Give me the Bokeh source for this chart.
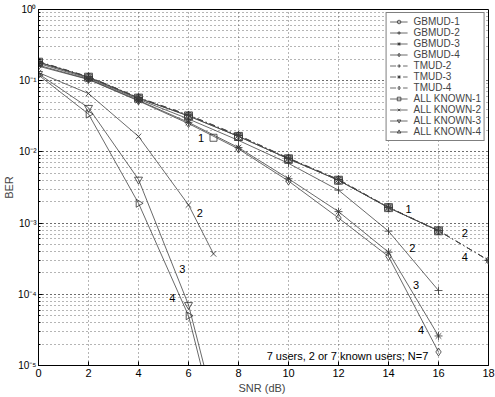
from bokeh.plotting import figure
from bokeh.models import (ColumnDataSource, Legend, LegendItem, SingleIntervalTicker,
                          CustomJSTickFormatter, LogTicker, Label, Range1d)
from bokeh.core.properties import value
from bokeh.embed import file_html
from bokeh.resources import INLINE

# ---------------- data ----------------
snr_g = [0, 2, 4, 6, 8, 10, 12, 14, 16]
snr_t = [0, 2, 4, 6, 8, 10, 12, 14, 16, 18]
snr_a = [0, 2, 4, 6, 7]

gbmud_1 = [0.182, 0.112, 0.057, 0.032, 0.0165, 0.0080, 0.0040, 0.00165, 0.00078]
gbmud_2 = [0.175, 0.108, 0.055, 0.029, 0.0145, 0.0069, 0.0029, 0.00077, 0.000113]
gbmud_3 = [0.165, 0.105, 0.053, 0.026, 0.0115, 0.0042, 0.00145, 0.00039, 2.6e-5]
gbmud_4 = [0.160, 0.104, 0.052, 0.025, 0.0110, 0.0039, 0.00118, 0.00034, 1.55e-5]

tmud_2 = [0.186, 0.114, 0.058, 0.033, 0.0171, 0.0082, 0.0041, 0.00167, 0.00079, 0.00030]
tmud_3 = [0.185, 0.113, 0.058, 0.033, 0.0170, 0.0081, 0.0041, 0.00166, 0.00078, 0.00030]
tmud_4 = [0.184, 0.113, 0.057, 0.0325, 0.0169, 0.0081, 0.0040, 0.00166, 0.00078, 0.00030]

allk_1 = [0.182, 0.112, 0.057, 0.032, 0.0165, 0.0080, 0.0040, 0.00165, 0.00078]
allk_2 = [0.130, 0.066, 0.0165, 0.0018, 0.00037]
allk_3 = [0.125, 0.0417, 0.0041, 7.1e-5, 3.0e-6]
allk_4 = [0.120, 0.034, 0.0019, 5.0e-5, 2.0e-6]

# curve annotations (text, snr, ber)
ann_text = ["1", "1", "2", "3", "4", "2", "4", "2", "3", "4"]
ann_x = [6.5, 14.8, 14.95, 15.1, 15.3, 17.05, 17.05, 6.45, 5.75, 5.35]
ann_y = [0.0156, 0.0016, 0.00045, 0.000133, 3.2e-5, 0.00072, 0.00033, 0.0014, 0.00023, 8.9e-5]
sq_x = [7.0]
sq_y = [0.0158]
note = "7 users, 2 or 7 known users; N=7"

FONT = "Liberation Sans"
LC = "#444444"
MC = "#333333"

p = figure(frame_width=450, frame_height=356, y_axis_type="log",
           x_range=Range1d(0, 18), y_range=Range1d(1e-5, 1),
           output_backend="svg", toolbar_location=None,
           min_border_left=36, min_border_right=9, min_border_top=9, min_border_bottom=4)

p.background_fill_color = "white"
p.outline_line_color = "black"
p.outline_line_width = 1

# axes
p.xaxis.ticker = SingleIntervalTicker(interval=2, num_minor_ticks=0)
p.yaxis.ticker = LogTicker(num_minor_ticks=10)
p.yaxis.formatter = CustomJSTickFormatter(code="""
const e = Math.round(Math.log10(tick));
const sup = {'-':'\u207b','0':'\u2070','1':'\u00b9','2':'\u00b2','3':'\u00b3','4':'\u2074','5':'\u2075','6':'\u2076','7':'\u2077','8':'\u2078','9':'\u2079'};
return '10' + String(e).split('').map(c => sup[c]).join('');
""")
for ax in (p.xaxis[0], p.yaxis[0]):
    ax.major_label_text_font = FONT
    ax.major_label_text_font_size = "11px"
    ax.axis_label_text_font = FONT
    ax.axis_label_text_font_size = "11px"
    ax.axis_label_text_font_style = "normal"
    ax.major_tick_in = 4
    ax.major_tick_out = 0
    ax.minor_tick_in = 2
    ax.minor_tick_out = 0
    ax.axis_line_color = "black"
    ax.major_label_text_color = "black"
p.yaxis.major_label_text_font_size = "10px"
p.xaxis.axis_label = "SNR  (dB)"
p.yaxis.axis_label = "BER"
p.xaxis.axis_label_standoff = 2
p.yaxis.axis_label_standoff = 0
p.xaxis.major_label_standoff = 3
p.yaxis.major_label_standoff = 2

# grid
for g in (p.xgrid[0], p.ygrid[0]):
    g.grid_line_color = "#444444"
    g.grid_line_dash = "1 3"
    g.grid_line_width = 0.8
p.ygrid.minor_grid_line_color = "#444444"
p.ygrid.minor_grid_line_dash = "1 3"
p.ygrid.minor_grid_line_width = 0.8

items = []

def series(name, x, y, marker, dash="solid", angle=0.0):
    src = ColumnDataSource(dict(x=x, y=y))
    ln = p.line("x", "y", source=src, line_color=LC, line_width=0.8, line_dash=dash)
    sc = p.scatter("x", "y", source=src, marker=marker, size=8, angle=angle,
                   line_color=MC, fill_color=None, line_width=0.8)
    items.append(LegendItem(label=name, renderers=[ln, sc]))

series("GBMUD-1", snr_g, gbmud_1, "circle")
series("GBMUD-2", snr_g, gbmud_2, "cross")
series("GBMUD-3", snr_g, gbmud_3, "asterisk")
series("GBMUD-4", snr_g, gbmud_4, "diamond")
series("TMUD-2", snr_t, tmud_2, "cross", dash="6 3 1 3")
series("TMUD-3", snr_t, tmud_3, "asterisk", dash="6 3 1 3")
series("TMUD-4", snr_t, tmud_4, "diamond", dash="6 3 1 3")
series("ALL KNOWN-1", snr_g, allk_1, "square")
series("ALL KNOWN-2", snr_a, allk_2, "x")
series("ALL KNOWN-3", snr_a, allk_3, "inverted_triangle")
series("ALL KNOWN-4", snr_a, allk_4, "triangle", angle=-1.5708)

# annotations
p.text(x=ann_x, y=ann_y, text=ann_text, text_font=value(FONT), text_font_size="11px",
       text_align="center", text_baseline="middle", text_color="black")
p.scatter(x=sq_x, y=sq_y, marker="square", size=7, line_color=MC, fill_color=None, line_width=0.8)
p.add_layout(Label(x=12.36, y=1.34e-5, text=note, text_font=FONT, text_font_size="11px",
                   text_align="center", text_baseline="middle", text_color="black"))

legend = Legend(items=items, location="top_right")
legend.label_text_font = FONT
legend.label_text_font_size = "10px"
legend.label_height = 9
legend.glyph_height = 9
legend.glyph_width = 18
legend.label_width = 64
legend.spacing = 0
legend.padding = 3
legend.margin = 3
legend.label_standoff = 6
legend.border_line_color = "black"
legend.border_line_width = 1
legend.background_fill_alpha = 1
p.add_layout(legend)

open("out.html", "w").write(file_html(p, INLINE))
